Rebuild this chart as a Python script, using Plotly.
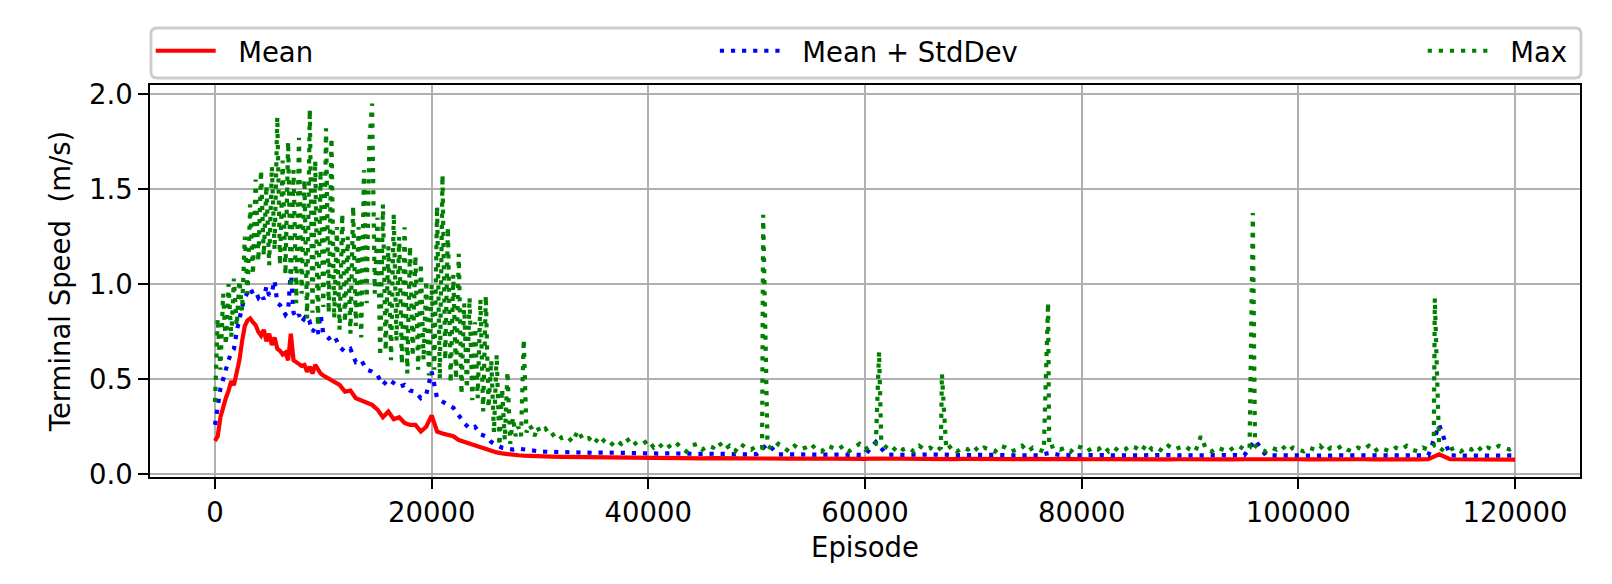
import plotly.graph_objects as go

# ---------------- data ----------------
# Mean and Mean+StdDev share the same episode grid
ep_a = list(range(0, 10001, 250))          # 41 points
ep_b = list(range(10500, 30001, 500))      # 40 points
ep_c = list(range(31000, 120001, 1000))    # 90 points
episodes_mean = ep_a + ep_b + ep_c

mean_a = [0.175, 0.20, 0.30, 0.36, 0.40, 0.44, 0.49, 0.47, 0.54, 0.60,
          0.70, 0.78, 0.81, 0.82, 0.80, 0.785, 0.75, 0.73, 0.76, 0.70,
          0.74, 0.68, 0.72, 0.66, 0.65, 0.63, 0.64, 0.60, 0.74, 0.60,
          0.59, 0.58, 0.57, 0.575, 0.54, 0.565, 0.53, 0.575, 0.55, 0.53,
          0.52]
mean_b = [0.505, 0.49, 0.47, 0.435, 0.44, 0.40, 0.39, 0.38, 0.365, 0.34,
          0.30, 0.33, 0.29, 0.30, 0.27, 0.26, 0.26, 0.225, 0.25, 0.31,
          0.225, 0.215, 0.207, 0.20, 0.18, 0.17, 0.165, 0.155, 0.145, 0.135,
          0.125, 0.115, 0.11, 0.105, 0.10, 0.10, 0.098, 0.096, 0.095, 0.094]
mean_c = [0.093, 0.092, 0.091, 0.090, 0.089, 0.089, 0.088, 0.088, 0.087, 0.086,
          0.086, 0.085, 0.086, 0.085, 0.084, 0.085, 0.084, 0.083, 0.084, 0.083,
          0.084, 0.083, 0.082, 0.083, 0.082, 0.083, 0.082, 0.081, 0.082, 0.081,
          0.083, 0.082, 0.081, 0.082, 0.080, 0.081, 0.082, 0.080, 0.081, 0.080,
          0.080, 0.081, 0.079, 0.080, 0.081, 0.079, 0.080, 0.081, 0.079, 0.080,
          0.079, 0.080, 0.079, 0.080, 0.078, 0.079, 0.080, 0.078, 0.079, 0.078,
          0.079, 0.078, 0.079, 0.078, 0.079, 0.080, 0.078, 0.079, 0.078, 0.079,
          0.078, 0.079, 0.078, 0.077, 0.078, 0.079, 0.078, 0.077, 0.078, 0.077,
          0.078, 0.079, 0.105, 0.079, 0.078, 0.077, 0.078, 0.077, 0.078, 0.077]
mean_speed = mean_a + mean_b + mean_c

std_a = [0.26, 0.35, 0.45, 0.50, 0.56, 0.60, 0.64, 0.66, 0.75, 0.82,
         0.88, 0.93, 0.96, 0.98, 0.95, 0.96, 0.93, 0.95, 0.92, 0.99,
         0.94, 0.96, 1.02, 0.90, 0.89, 0.87, 0.84, 0.86, 1.075, 0.85,
         0.82, 0.84, 0.80, 0.82, 0.79, 0.80, 0.75, 0.77, 0.74, 0.84,
         0.74]
std_b = [0.715, 0.73, 0.67, 0.645, 0.66, 0.59, 0.60, 0.55, 0.54, 0.52,
         0.47, 0.50, 0.48, 0.46, 0.47, 0.44, 0.435, 0.40, 0.42, 0.54,
         0.40, 0.38, 0.365, 0.35, 0.31, 0.27, 0.24, 0.25, 0.21, 0.20,
         0.17, 0.155, 0.14, 0.135, 0.13, 0.135, 0.13, 0.125, 0.122, 0.12]
std_c = [0.118, 0.116, 0.117, 0.114, 0.113, 0.114, 0.112, 0.111, 0.112, 0.110,
         0.109, 0.110, 0.108, 0.109, 0.107, 0.108, 0.106, 0.107, 0.105, 0.106,
         0.160, 0.105, 0.104, 0.105, 0.103, 0.104, 0.102, 0.104, 0.103, 0.102,
         0.170, 0.104, 0.102, 0.103, 0.101, 0.102, 0.104, 0.101, 0.102, 0.100,
         0.101, 0.102, 0.100, 0.101, 0.102, 0.100, 0.112, 0.101, 0.100, 0.102,
         0.100, 0.101, 0.099, 0.100, 0.101, 0.099, 0.100, 0.101, 0.099, 0.100,
         0.100, 0.099, 0.100, 0.101, 0.099, 0.180, 0.100, 0.099, 0.100, 0.099,
         0.100, 0.099, 0.098, 0.100, 0.099, 0.098, 0.100, 0.099, 0.098, 0.099,
         0.099, 0.100, 0.260, 0.100, 0.098, 0.099, 0.098, 0.099, 0.098, 0.099]
mean_plus_std = std_a + std_b + std_c

# Max: dense early part, coarser late part plus isolated spikes
max_ep_early = list(range(0, 30001, 250))      # 121 points
max_early = [0.38, 0.82, 0.55, 0.95, 0.68, 1.00, 0.72, 1.03, 0.78, 1.02,
             0.86, 1.25, 0.95, 1.42, 1.05, 1.55, 1.12, 1.60, 1.15, 1.52,
             1.10, 1.62, 1.18, 1.88, 1.10, 1.65, 1.05, 1.75, 0.98, 1.60,
             0.90, 1.77, 0.95, 1.55, 0.82, 1.92, 0.85, 1.65, 0.78, 1.60,
             0.88, 1.82, 0.85, 1.77, 0.82, 1.30, 0.76, 1.37, 0.80, 1.25,
             0.74, 1.41, 0.78, 1.30, 0.72, 1.60, 0.90, 1.75, 1.95, 0.95,
             1.35, 0.62, 1.42, 0.65, 1.20, 0.60, 1.37, 0.70, 1.25, 0.58,
             1.30, 0.53, 1.20, 0.62, 1.15, 0.55, 1.11, 0.60, 1.02, 0.52,
             1.00, 0.55, 1.41, 0.50, 1.575, 0.60, 1.30, 0.48, 1.05, 0.50,
             1.16, 0.42, 0.90, 0.45, 0.93, 0.39, 0.80, 0.40, 0.92, 0.33,
             0.94, 0.35, 0.60, 0.22, 0.63, 0.15, 0.45, 0.18, 0.54, 0.16,
             0.30, 0.20, 0.25, 0.20, 0.71, 0.22, 0.26, 0.24, 0.20, 0.25,
             0.22]
max_ep_late = list(range(30500, 120001, 500))  # 180 points
max_late = [0.24, 0.20, 0.22, 0.19, 0.20, 0.17, 0.23, 0.18, 0.19, 0.16,
            0.20, 0.17, 0.15, 0.18, 0.16, 0.19, 0.15, 0.17, 0.16, 0.18,
            0.14, 0.16, 0.13, 0.15, 0.17, 0.14, 0.12, 0.15, 0.16, 0.13,
            0.15, 0.14, 0.17, 0.13, 0.15, 0.12, 0.16, 0.14, 0.13, 0.15,
            0.14, 0.15, 0.13, 0.16, 0.14, 0.12, 0.15, 0.13, 0.14, 0.16,
            0.13, 0.12, 0.15, 0.14, 0.13, 0.15, 0.12, 0.14, 0.16, 0.13,
            0.15, 0.16, 0.17, 0.14, 0.12, 0.15, 0.13, 0.14, 0.12, 0.15,
            0.13, 0.14, 0.12, 0.14, 0.13, 0.15, 0.12, 0.14, 0.13, 0.15,
            0.12, 0.14, 0.13, 0.12, 0.15, 0.14, 0.12, 0.13, 0.15, 0.12,
            0.14, 0.13, 0.12, 0.14, 0.15, 0.13, 0.14, 0.12, 0.15, 0.14,
            0.12, 0.14, 0.13, 0.15, 0.12, 0.14, 0.12, 0.13, 0.15, 0.14,
            0.12, 0.16, 0.13, 0.14, 0.12, 0.15, 0.13, 0.14, 0.15, 0.13,
            0.12, 0.20, 0.13, 0.12, 0.14, 0.13, 0.12, 0.14, 0.15, 0.13,
            0.14, 0.15, 0.13, 0.12, 0.14, 0.13, 0.15, 0.12, 0.14, 0.13,
            0.12, 0.14, 0.13, 0.15, 0.12, 0.14, 0.13, 0.15, 0.13, 0.12,
            0.14, 0.13, 0.15, 0.12, 0.14, 0.13, 0.12, 0.14, 0.13, 0.15,
            0.13, 0.12, 0.14, 0.13, 0.15, 0.14, 0.12, 0.13, 0.14, 0.12,
            0.14, 0.13, 0.15, 0.12, 0.14, 0.13, 0.15, 0.14, 0.13, 0.145]
max_spike_ep = [50600, 61300, 67100, 76900, 95800, 112600]
max_spike_val = [1.365, 0.645, 0.528, 0.903, 1.375, 0.926]

assert len(mean_speed) == len(episodes_mean) == len(mean_plus_std)
assert len(max_early) == len(max_ep_early) and len(max_late) == len(max_ep_late)

late_pairs = sorted(list(zip(max_ep_late, max_late)) + list(zip(max_spike_ep, max_spike_val)))
episodes_max = max_ep_early + [p[0] for p in late_pairs]
max_speed = max_early + [p[1] for p in late_pairs]

x_ticks = [0, 20000, 40000, 60000, 80000, 100000, 120000]
y_ticks = [0.0, 0.5, 1.0, 1.5, 2.0]

# ---------------- figure ----------------
FONT = "DejaVu Sans"
FS = 27.5
LW = 4.2
DOT = "4.2px,6.9px"
GAP = "\u00a0\u00a0"   # visual gap between legend handle and label

fig = go.Figure()
fig.add_trace(go.Scatter(x=episodes_mean, y=mean_speed, mode="lines", name=GAP + "Mean",
                         line=dict(color="#ff0000", width=LW), legend="legend", showlegend=True))
fig.add_trace(go.Scatter(x=episodes_mean, y=mean_plus_std, mode="lines", name=GAP + "Mean + StdDev",
                         line=dict(color="#0000ff", width=LW, dash=DOT), legend="legend2", showlegend=True))
fig.add_trace(go.Scatter(x=episodes_max, y=max_speed, mode="lines", name=GAP + "Max",
                         line=dict(color="#008000", width=LW, dash=DOT), legend="legend3", showlegend=True))

axis_common = dict(showline=True, linecolor="black", linewidth=2.2, mirror=True,
                   ticks="outside", ticklen=9.7, tickwidth=2.2, tickcolor="black",
                   showgrid=True, gridcolor="#b0b0b0", gridwidth=2.2, zeroline=False,
                   tickfont=dict(family=FONT, size=FS, color="black"))

fig.update_layout(
    width=1612, height=584,
    showlegend=True,
    margin=dict(l=150, r=32, t=85, b=107),
    paper_bgcolor="white", plot_bgcolor="white",
    font=dict(family=FONT, size=FS, color="black"),
    xaxis=dict(range=[-6000, 126000], tickvals=x_ticks, tickformat="d",
               title=dict(text="Episode", standoff=11, font=dict(family=FONT, size=FS)),
               **axis_common),
    yaxis=dict(range=[-0.0143, 2.048], tickvals=y_ticks, tickformat=".1f",
               title=dict(text="Terminal Speed \u00a0(m/s)", standoff=10, font=dict(family=FONT, size=FS)),
               **axis_common),
)

leg_common = dict(orientation="h", yanchor="middle", y=1.087, xanchor="left",
                  bgcolor="rgba(0,0,0,0)", borderwidth=0, visible=True, itemwidth=60,
                  font=dict(family=FONT, size=FS, color="black"))
fig.update_layout(
    legend=dict(x=0.0005, **leg_common),
    legend2=dict(x=0.395, **leg_common),
    legend3=dict(x=0.890, **leg_common),
)

# legend frame (rounded box spanning the axes width)
w, h, r = 1430, 50, 6
path = (f"M {r},0 L {w - r},0 Q {w},0 {w},{-r} L {w},{-h + r} Q {w},{-h} {w - r},{-h} "
        f"L {r},{-h} Q 0,{-h} 0,{-h + r} L 0,{-r} Q 0,0 {r},0 Z")
fig.add_shape(type="path", xref="paper", yref="paper", xsizemode="pixel", ysizemode="pixel",
              xanchor=0.0007, yanchor=1.1454, path=path,
              line=dict(color="#cccccc", width=2.8), fillcolor="rgba(255,255,255,0.8)",
              layer="below")

fig.write_html("out.html")
